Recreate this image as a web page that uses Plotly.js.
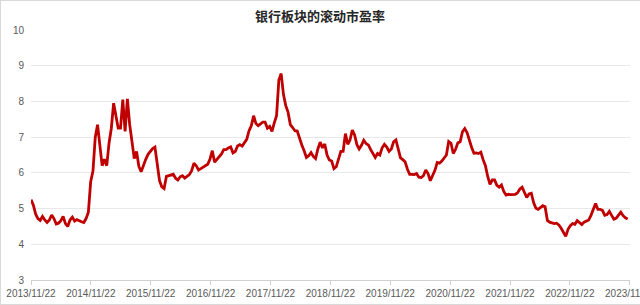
<!DOCTYPE html>
<html>
<head>
<meta charset="utf-8">
<script src="https://cdn.plot.ly/plotly-3.0.1.min.js"></script>
<style>
  html, body { margin: 0; padding: 0; background: #fff; overflow: hidden; }
  #wrap { position: relative; width: 640px; height: 305px; overflow: hidden; }
  #chart { position: absolute; left: 0; top: 0; width: 640px; height: 305px; }
  #frame { position: absolute; left: 0; top: 0; width: 660px; height: 303px;
           border: 1px solid #d9d9d9; pointer-events: none; }
</style>
</head>
<body>
<div id="wrap"><div id="chart"></div><div id="frame"></div></div>
<script>
// Chart text
const chartTitle = '银行板块的滚动市盈率';

// Series: bank sector rolling P/E, sampled every 14 days from the start date
const startDate = '2013-11-22';
const stepDays = 14;
const peValues = [
  5.25,5.1,4.85,4.72,4.67,4.78,4.68,4.61,4.68,4.82,
  4.72,4.57,4.59,4.66,4.78,4.58,4.5,4.68,4.76,4.65,
  4.69,4.65,4.63,4.61,4.72,4.9,5.75,6.05,7.0,7.35,
  6.75,6.2,6.38,6.2,6.83,7.25,7.95,7.6,7.25,7.25,
  8.05,7.16,8.07,7.35,6.84,6.4,6.6,6.18,6.03,6.24,
  6.38,6.52,6.6,6.68,6.72,6.2,5.78,5.61,5.56,5.9,
  5.92,5.96,5.96,5.85,5.8,5.89,5.92,5.85,5.9,5.95,
  6.06,6.27,6.2,6.08,6.12,6.16,6.19,6.24,6.39,6.62,
  6.3,6.38,6.47,6.53,6.65,6.65,6.7,6.73,6.56,6.6,
  6.75,6.79,6.75,6.84,6.94,7.18,7.32,7.6,7.38,7.32,
  7.36,7.42,7.42,7.25,7.3,7.16,7.4,7.6,8.6,8.78,
  8.2,7.88,7.7,7.35,7.27,7.18,7.17,6.95,6.78,6.62,
  6.43,6.48,6.57,6.46,6.4,6.67,6.86,6.7,6.81,6.5,
  6.36,6.33,6.12,6.17,6.42,6.6,6.6,7.1,6.8,6.92,
  7.2,7.06,6.79,6.67,6.77,6.91,6.82,6.78,6.65,6.55,
  6.43,6.54,6.5,6.7,6.8,6.72,6.6,6.67,6.87,6.92,
  6.67,6.42,6.37,6.31,6.11,5.96,5.96,5.95,5.98,5.88,
  5.87,5.92,6.08,5.98,5.78,5.91,6.07,6.29,6.27,6.33,
  6.43,6.5,6.88,6.83,6.54,6.66,6.84,6.87,7.15,7.24,
  7.13,6.88,6.71,6.55,6.56,6.54,6.58,6.37,6.2,5.9,
  5.68,5.8,5.8,5.65,5.6,5.66,5.48,5.38,5.4,5.39,
  5.4,5.4,5.44,5.55,5.6,5.44,5.31,5.41,5.43,5.17,
  5.01,4.98,5.03,5.08,5.05,4.67,4.62,4.59,4.58,4.59,
  4.54,4.45,4.33,4.22,4.42,4.52,4.58,4.56,4.66,4.6,
  4.55,4.62,4.66,4.68,4.81,5.0,5.14,4.98,4.98,4.95,
  4.81,4.83,4.92,4.81,4.7,4.73,4.83,4.9,4.8,4.74,
  4.71
];

// Axis ticks
const xTickVals = ['2013-11-22','2014-11-22','2015-11-22','2016-11-22','2017-11-22',
                   '2018-11-22','2019-11-22','2020-11-22','2021-11-22','2022-11-22','2023-11-22'];
const xTickText = ['2013/11/22','2014/11/22','2015/11/22','2016/11/22','2017/11/22',
                   '2018/11/22','2019/11/22','2020/11/22','2021/11/22','2022/11/22','2023/11/22'];
const xRange = ['2013-11-22', '2023-11-24'];
const yRange = [3, 10];

// Build date categories from the start date and step
const t0 = Date.parse(startDate + 'T00:00:00Z');
const dates = peValues.map((_, i) =>
  new Date(t0 + i * stepDays * 86400000).toISOString().slice(0, 10));

const trace = {
  x: dates,
  y: peValues,
  type: 'scatter',
  mode: 'lines',
  line: { color: '#C00000', width: 2.8, shape: 'linear' },
  hoverinfo: 'x+y'
};

const tickFont = { family: 'Liberation Sans, Arial, sans-serif', size: 10, color: '#595959' };

const layout = {
  width: 640,
  height: 305,
  margin: { l: 31, r: 10, t: 30, b: 25, pad: 0 },
  paper_bgcolor: '#ffffff',
  plot_bgcolor: '#ffffff',
  showlegend: false,
  title: {
    text: '<b>' + chartTitle + '</b>',
    font: { family: 'Noto Sans CJK SC, sans-serif', size: 13, color: '#262626' },
    x: 0.5, xanchor: 'center',
    y: 1 - 16 / 305, yanchor: 'middle', yref: 'container'
  },
  xaxis: {
    type: 'date',
    range: xRange,
    tickmode: 'array',
    tickvals: xTickVals,
    ticktext: xTickText,
    ticks: 'outside',
    ticklen: 4,
    tickcolor: '#d0d0d0',
    tickfont: tickFont,
    ticklabeloverflow: 'allow',
    showgrid: false,
    showline: true,
    linecolor: '#d0d0d0',
    linewidth: 1,
    zeroline: false,
    fixedrange: true
  },
  yaxis: {
    range: yRange,
    dtick: 1,
    tick0: 3,
    ticks: '',
    ticklabelstandoff: 6,
    tickfont: tickFont,
    showgrid: true,
    gridcolor: '#e8e8e8',
    gridwidth: 1,
    showline: false,
    zeroline: false,
    fixedrange: true
  }
};

Plotly.newPlot('chart', [trace], layout, { displayModeBar: false, staticPlot: true });
</script>
</body>
</html>
